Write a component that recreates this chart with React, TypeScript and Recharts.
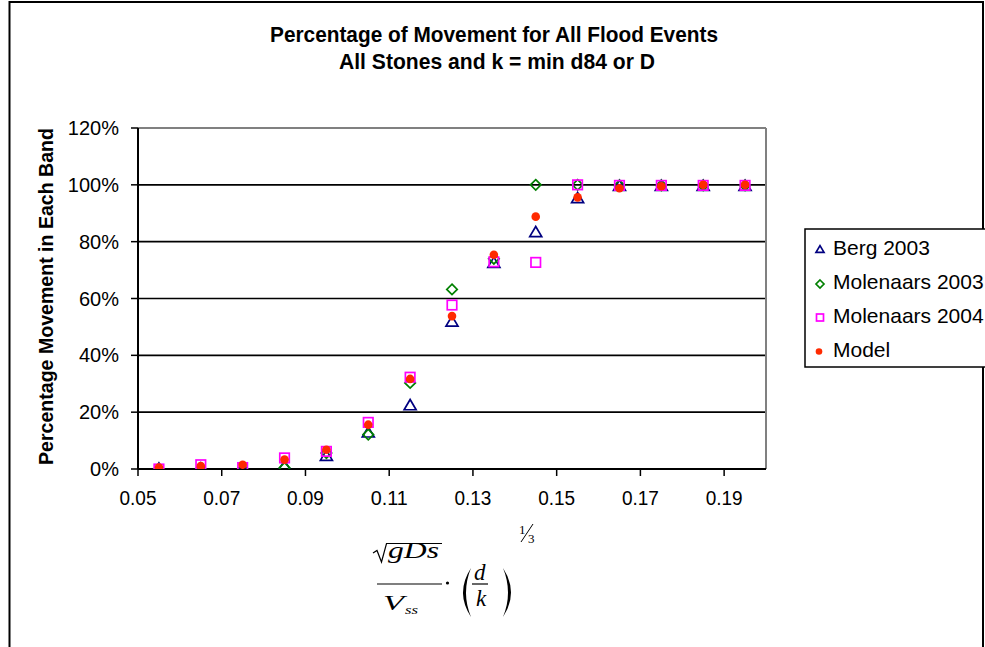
import React from 'react';
import { ScatterChart, Scatter, XAxis, YAxis, ReferenceLine } from 'recharts';

// x positions of the bands (shear parameter)
const bandX = [0.055, 0.065, 0.075, 0.085, 0.095, 0.105, 0.115, 0.125, 0.135, 0.145, 0.155, 0.165, 0.175, 0.185, 0.195];

// fraction of stones moved in each band
const berg2003 = [0, 0, 0, 0.01, 0.045, 0.127, 0.223, 0.517, 0.724, 0.832, 0.952, 0.995, 0.995, 0.995, 0.995];
const molenaars2003 = [0, 0, 0, 0.004, 0.056, 0.121, 0.303, 0.632, 0.74, 1.0, 1.0, 0.998, 0.998, 0.998, 0.998];
const molenaars2004 = [0, 0.015, 0.005, 0.039, 0.062, 0.164, 0.323, 0.577, 0.729, 0.727, 1.0, 0.998, 0.998, 0.998, 0.998];
const model = [0.005, 0.01, 0.015, 0.033, 0.068, 0.156, 0.317, 0.538, 0.754, 0.888, 0.956, 0.988, 0.995, 1.0, 1.0];

const xTicks = [0.05, 0.07, 0.09, 0.11, 0.13, 0.15, 0.17, 0.19];
const yTicks = [0, 0.2, 0.4, 0.6, 0.8, 1.0, 1.2];
const gridY = [0.2, 0.4, 0.6, 0.8, 1.0];

const seriesNames = ['Berg 2003', 'Molenaars 2003', 'Molenaars 2004', 'Model'];

const toPoints = (ys: number[]) => bandX.map((x, i) => ({ x, y: ys[i] }));

const FONT = '"Liberation Sans", Arial, sans-serif';
const SERIF = '"Liberation Serif", "Times New Roman", serif';

const NAVY = '#000080';
const GREEN = '#008000';
const PINK = '#ff00ff';
const RED = '#ff2a00';

function Triangle({ cx, cy, s = 12 }: any) {
  const h = s * 0.85;
  return (
    <path
      d={`M${cx},${cy - h / 2 - 1} L${cx + s / 2},${cy + h / 2 - 1} L${cx - s / 2},${cy + h / 2 - 1} Z`}
      fill="none"
      stroke={NAVY}
      strokeWidth={1.7}
    />
  );
}

function Diamond({ cx, cy, s = 10.5 }: any) {
  const r = s / 2;
  return (
    <path
      d={`M${cx},${cy - r} L${cx + r},${cy} L${cx},${cy + r} L${cx - r},${cy} Z`}
      fill="none"
      stroke={GREEN}
      strokeWidth={1.7}
    />
  );
}

function Square({ cx, cy, s = 9.5 }: any) {
  return <rect x={cx - s / 2} y={cy - s / 2} width={s} height={s} fill="none" stroke={PINK} strokeWidth={1.7} />;
}

function Dot({ cx, cy, r = 4.3 }: any) {
  return <circle cx={cx} cy={cy} r={r} fill={RED} />;
}

function XTick({ x, y, payload }: any) {
  return (
    <text x={x} y={y + 29} textAnchor="middle" fontFamily={FONT} fontSize={20} fill="#000" textLength={37} lengthAdjust="spacingAndGlyphs">
      {payload.value.toFixed(2)}
    </text>
  );
}

function YTick({ x, y, payload }: any) {
  const label = `${Math.round(payload.value * 100)}%`;
  return (
    <text x={x} y={y + 7} textAnchor="end" fontFamily={FONT} fontSize={20} fill="#000">
      {label}
    </text>
  );
}

export default function App() {
  return (
    <div style={{ position: 'fixed', left: 0, top: 0, width: 985, height: 647, background: '#fff', overflow: 'hidden' }}>
      <div style={{ position: 'absolute', left: 0, top: 0 }}>
        <ScatterChart width={985} height={647} margin={{ top: 128, right: 219, bottom: 148, left: 0 }}>
          <XAxis
            type="number"
            dataKey="x"
            domain={[0.05, 0.2]}
            ticks={xTicks}
            height={30}
            tickSize={7}
            tickMargin={0}
            axisLine={{ stroke: '#000', strokeWidth: 2 }}
            tickLine={{ stroke: '#000', strokeWidth: 1.5 }}
            tick={<XTick />}
            allowDataOverflow
          />
          <YAxis
            type="number"
            dataKey="y"
            domain={[0, 1.2]}
            ticks={yTicks}
            width={138}
            tickSize={7}
            tickMargin={12}
            axisLine={{ stroke: '#000', strokeWidth: 2 }}
            tickLine={{ stroke: '#000', strokeWidth: 1.5 }}
            tick={<YTick />}
            allowDataOverflow
          />
          {gridY.map((g) => (
            <ReferenceLine key={g} y={g} stroke="#000" strokeWidth={1.6} />
          ))}
          <ReferenceLine y={1.2} stroke="#808080" strokeWidth={2} />
          <ReferenceLine x={0.2} stroke="#808080" strokeWidth={2} />
          <Scatter name={seriesNames[0]} data={toPoints(berg2003)} shape={(p: any) => <Triangle cx={p.cx} cy={p.cy} />} isAnimationActive={false} />
          <Scatter name={seriesNames[1]} data={toPoints(molenaars2003)} shape={(p: any) => <Diamond cx={p.cx} cy={p.cy} />} isAnimationActive={false} />
          <Scatter name={seriesNames[2]} data={toPoints(molenaars2004)} shape={(p: any) => <Square cx={p.cx} cy={p.cy} />} isAnimationActive={false} />
          <Scatter name={seriesNames[3]} data={toPoints(model)} shape={(p: any) => <Dot cx={p.cx} cy={p.cy} />} isAnimationActive={false} />
        </ScatterChart>
      </div>

      <svg width={985} height={647} style={{ position: 'absolute', left: 0, top: 0, pointerEvents: 'none' }}>
        {/* chart area border */}
        <path d="M9.5,720 L9.5,2 L983,2 L983,720" fill="none" stroke="#000" strokeWidth={2} />

        {/* title */}
        <text x={494} y={42} textAnchor="middle" fontFamily={FONT} fontWeight="bold" fontSize={22.5} fill="#000" textLength={448} lengthAdjust="spacingAndGlyphs">
          Percentage of Movement for All Flood Events
        </text>
        <text x={497} y={68.5} textAnchor="middle" fontFamily={FONT} fontWeight="bold" fontSize={22.5} fill="#000" textLength={316} lengthAdjust="spacingAndGlyphs">
          All Stones and k = min d84 or D
        </text>

        {/* y axis title */}
        <text
          x={53}
          y={296.5}
          transform="rotate(-90 53 296.5)"
          textAnchor="middle"
          fontFamily={FONT}
          fontWeight="bold"
          fontSize={20}
          fill="#000"
          textLength={337}
          lengthAdjust="spacingAndGlyphs"
        >
          Percentage Movement in Each Band
        </text>

        {/* legend */}
        <rect x={805} y={229} width={200} height={138} fill="#fff" stroke="#000" strokeWidth={1.5} />
        <Triangle cx={820} cy={250} s={8} />
        <Diamond cx={820} cy={284} s={8} />
        <Square cx={820} cy={317.5} s={7} />
        <Dot cx={819} cy={351.5} r={3.3} />
        {seriesNames.map((n, i) => (
          <text key={n} x={833} y={254.5 + i * 34.3} fontFamily={FONT} fontSize={21} fill="#000">
            {n}
          </text>
        ))}

        {/* x axis title: sqrt(gDs)/Vss * (d/k)^(1/3) */}
        <g fill="#000" fontFamily={SERIF} fontStyle="italic" fontWeight="normal">
          <path d="M373,553 L377,550.5 L381.5,562 L386.5,543.5 L442,543.5" fill="none" stroke="#000" strokeWidth={1.2} />
          <text x={388} y={558} fontSize={23} textLength={51} lengthAdjust="spacingAndGlyphs">gDs</text>
          <line x1={377} y1={584} x2={442} y2={584} stroke="#000" strokeWidth={1.2} />
          <text x={383} y={610} fontSize={22} textLength={21} lengthAdjust="spacingAndGlyphs">V</text>
          <text x={405} y={614} fontSize={13} textLength={13} lengthAdjust="spacingAndGlyphs">ss</text>
          <circle cx={447.5} cy={583} r={1.6} />
          <path d="M471,568 Q455,592.5 471,617 Q461,592.5 471,568 Z" />
          <text x={474} y={580} fontSize={23}>d</text>
          <line x1={472} y1={584} x2={488} y2={584} stroke="#000" strokeWidth={1.2} />
          <text x={476} y={606} fontSize={23}>k</text>
          <path d="M503,568 Q519,592.5 503,617 Q513,592.5 503,568 Z" />
          <text x={519} y={534} fontSize={13} fontStyle="normal">1</text>
          <line x1={521} y1={542} x2={533} y2={524} stroke="#000" strokeWidth={1} />
          <text x={528} y={543} fontSize={13} fontStyle="normal">3</text>
        </g>
      </svg>
    </div>
  );
}
